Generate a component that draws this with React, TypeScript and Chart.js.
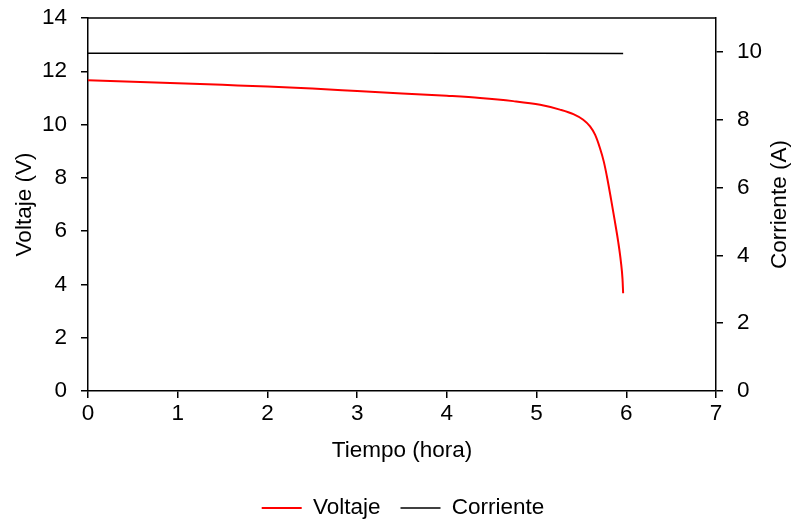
import React, { useEffect, useRef } from "react";
import { Chart, registerables } from "chart.js";

Chart.register(...registerables);

const voltTime = [0, 0.5, 1, 1.5, 2, 2.5, 3, 3.5, 4, 4.37, 4.74, 5.04, 5.26, 5.41, 5.52, 5.596, 5.652, 5.707, 5.75, 5.79, 5.83, 5.87, 5.91, 5.94, 5.958, 5.965];
const voltValues = [11.66, 11.61, 11.55, 11.49, 11.43, 11.35, 11.26, 11.17, 11.08, 11.0, 10.88, 10.74, 10.56, 10.39, 10.18, 9.93, 9.62, 9.11, 8.6, 7.95, 7.2, 6.42, 5.6, 4.85, 4.2, 3.67];
const currTime = [0, 1, 2, 3, 4, 5, 5.965];
const currValues = [9.96, 9.96, 9.97, 9.97, 9.96, 9.96, 9.95];
const rightTitle = "Corriente (A)";

const FONT = "'Liberation Sans', Arial, sans-serif";
const FS = 22.5;
const PADL = 11;

export default function App() {
  const ref = useRef<HTMLCanvasElement | null>(null);
  useEffect(() => {
    if (!ref.current) return;
    const font = { family: FONT, size: FS };
    const yFont = { family: FONT, size: FS, lineHeight: 0.3 };
    const chart = new Chart(ref.current, {
      type: "line",
      data: {
        datasets: [
          {
            label: "Voltaje",
            data: voltTime.map((t, i) => ({ x: t, y: voltValues[i] })),
            borderColor: "#ff0000",
            backgroundColor: "#ff0000",
            borderWidth: 2,
            pointRadius: 0,
            cubicInterpolationMode: "monotone",
            yAxisID: "y",
          },
          {
            label: "Corriente",
            data: currTime.map((t, i) => ({ x: t, y: currValues[i] })),
            borderColor: "#000000",
            backgroundColor: "#000000",
            borderWidth: 1.5,
            pointRadius: 0,
            yAxisID: "y1",
          },
        ],
      },
      options: {
        animation: false,
        responsive: false,
        layout: { padding: { top: 18, bottom: -4.25, left: PADL, right: 0 } },
        plugins: {
          tooltip: { enabled: false },
          legend: {
            position: "bottom",
            labels: {
              font,
              color: "#000",
              usePointStyle: true,
              pointStyle: "line",
              pointStyleWidth: 40,
              padding: 20,
            },
          },
        },
        scales: {
          x: {
            type: "linear",
            min: 0,
            max: 7,
            ticks: { stepSize: 1, font, color: "#000", padding: 2.5 },
            grid: { drawOnChartArea: false, drawTicks: true, tickLength: 7, color: "#000", lineWidth: 1.5 },
            border: { color: "#000", width: 1.5 },
            title: { display: true, text: "Tiempo (hora)", font, color: "#000", padding: { top: 4, bottom: 12.25 } },
            afterFit: (s: any) => { s.height = 85.75; },
          },
          y: {
            position: "left",
            min: 0,
            max: 14,
            ticks: { stepSize: 2, font: yFont, color: "#000", padding: 14 },
            grid: { drawOnChartArea: false, drawTicks: true, tickLength: 7, color: "#000", lineWidth: 1.5 },
            border: { color: "#000", width: 1.5 },
            title: { display: true, text: "Voltaje (V)", font, color: "#000", padding: { bottom: 0, top: 0 } },
            afterFit: (s: any) => { s.width = 88 - PADL; },
          },
          y1: {
            position: "right",
            min: 0,
            max: 11,
            afterBuildTicks: (s: any) => { s.ticks = s.ticks.filter((t: any) => t.value <= 10); },
            ticks: { stepSize: 2, font: yFont, color: "#000", padding: 14 },
            grid: { drawOnChartArea: false, drawTicks: true, tickLength: 7, color: "#000", lineWidth: 1.5 },
            border: { color: "#000", width: 1.5 },
            title: { display: false, text: rightTitle },
            afterFit: (s: any) => { s.width = 79; },
          },
        },
      },
      plugins: [
        {
          id: "extras",
          afterDraw(c: any) {
            const { ctx, chartArea } = c;
            ctx.save();
            ctx.strokeStyle = "#000";
            ctx.lineWidth = 1.5;
            ctx.beginPath();
            ctx.moveTo(chartArea.left, chartArea.top);
            ctx.lineTo(chartArea.right, chartArea.top);
            ctx.stroke();
            ctx.translate(780, (chartArea.top + chartArea.bottom) / 2);
            ctx.rotate(-Math.PI / 2);
            ctx.fillStyle = "#000";
            ctx.font = `${FS}px ${FONT}`;
            ctx.textAlign = "center";
            ctx.textBaseline = "middle";
            ctx.fillText(rightTitle, 0, 0);
            ctx.restore();
          },
        },
      ],
    } as any);
    return () => chart.destroy();
  }, []);
  return (
    <div style={{ position: "fixed", left: 0, top: 0, width: 795, height: 525, background: "#fff" }}>
      <canvas ref={ref} width={795} height={525} style={{ width: 795, height: 525 }} />
    </div>
  );
}
